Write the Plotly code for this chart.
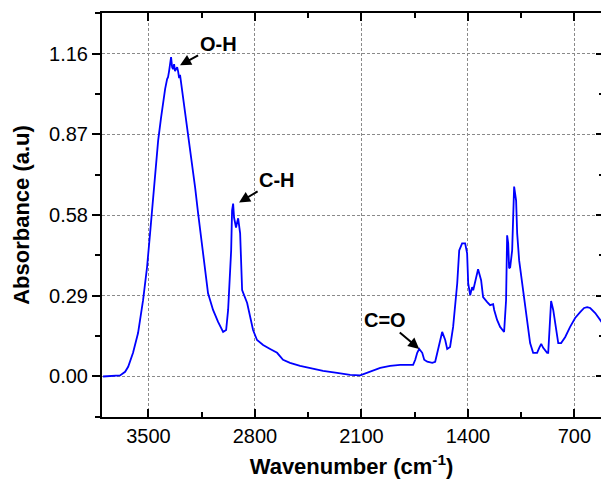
import plotly.graph_objects as go

# Spectrum values (wavenumber, absorbance)
wavenumber = [3798, 3752, 3686, 3653, 3633, 3601, 3568, 3535, 3509, 3489, 3469, 3456, 3436, 3417,
              3403, 3390, 3377, 3371, 3364, 3357, 3351, 3344, 3338, 3331, 3325, 3318, 3311, 3305,
              3298, 3292, 3278, 3259, 3239, 3213, 3193, 3173, 3160, 3140, 3108, 3075, 3042, 3009,
              2989, 2976, 2956, 2950, 2943, 2937, 2924, 2917, 2910, 2897, 2891, 2884, 2851, 2832,
              2812, 2786, 2746, 2700, 2654, 2615, 2569, 2503, 2437, 2352, 2260, 2174, 2108, 2042,
              1976, 1911, 1845, 1760, 1746, 1733, 1720, 1700, 1687, 1667, 1634, 1615, 1602, 1582,
              1569, 1549, 1536, 1517, 1497, 1470, 1457, 1438, 1418, 1405, 1398, 1385, 1372, 1365,
              1346, 1333, 1313, 1300, 1273, 1254, 1234, 1227, 1208, 1188, 1162, 1149, 1142, 1135,
              1129, 1122, 1109, 1102, 1096, 1083, 1076, 1063, 1043, 1030, 1010, 991, 971, 945,
              931, 918, 905, 879, 872, 859, 853, 839, 820, 806, 787, 760, 728, 695, 662, 636, 616,
              596, 563, 530, 520]
absorbance = [0.000, 0.001, 0.004, 0.017, 0.035, 0.085, 0.156, 0.274, 0.392, 0.514, 0.632, 0.729,
              0.847, 0.929, 0.990, 1.033, 1.068, 1.075, 1.097, 1.133, 1.147, 1.111, 1.104, 1.122,
              1.097, 1.104, 1.111, 1.097, 1.072, 1.083, 1.025, 0.954, 0.872, 0.775, 0.679, 0.585,
              0.525, 0.428, 0.299, 0.239, 0.196, 0.160, 0.167, 0.239, 0.453, 0.596, 0.621, 0.571,
              0.535, 0.553, 0.568, 0.514, 0.392, 0.310, 0.264, 0.214, 0.167, 0.131, 0.113, 0.099,
              0.085, 0.060, 0.049, 0.038, 0.031, 0.020, 0.013, 0.006, 0.004, 0.017, 0.031, 0.038,
              0.042, 0.042, 0.060, 0.085, 0.099, 0.085, 0.060, 0.053, 0.049, 0.053, 0.085, 0.131,
              0.160, 0.131, 0.099, 0.106, 0.178, 0.335, 0.453, 0.478, 0.478, 0.442, 0.335, 0.292,
              0.321, 0.310, 0.357, 0.385, 0.346, 0.285, 0.267, 0.256, 0.260, 0.239, 0.203, 0.178,
              0.160, 0.274, 0.507, 0.478, 0.389, 0.392, 0.453, 0.650, 0.682, 0.632, 0.514, 0.417,
              0.335, 0.264, 0.192, 0.120, 0.085, 0.085, 0.103, 0.117, 0.103, 0.085, 0.085, 0.239,
              0.271, 0.239, 0.178, 0.120, 0.120, 0.142, 0.178, 0.210, 0.231, 0.246, 0.249, 0.246,
              0.228, 0.203, 0.195]

x_ticks = [3500, 2800, 2100, 1400, 700]
x_tick_labels = ["3500", "2800", "2100", "1400", "700"]
x_minor = [3150, 2450, 1750, 1050]
y_ticks = [0.0, 0.29, 0.58, 0.87, 1.16]
y_tick_labels = ["0.00", "0.29", "0.58", "0.87", "1.16"]
y_minor = [-0.145, 0.145, 0.435, 0.725, 1.015, 1.305]

# labels: (text, text position, arrow head on the peak)
labels = [
    ("O-H", (3042, 1.193), (3292, 1.118)),
    ("C-H", (2654, 0.707), (2904, 0.625)),
    ("C=O", (1945, 0.203), (1720, 0.099)),
]

x_range = [3805, 525]
y_range = [-0.1455, 1.3055]
FONT = "Arial, 'Liberation Sans', sans-serif"

fig = go.Figure()
fig.add_trace(go.Scatter(x=wavenumber, y=absorbance, mode="lines",
                         line=dict(color="#0000FF", width=1.8), showlegend=False))

grid = dict(showgrid=True, gridcolor="#8a8a8a", gridwidth=1, griddash="3px,2px")

fig.update_layout(
    width=601, height=481,
    margin=dict(l=102, r=0, t=13, b=64),
    paper_bgcolor="white", plot_bgcolor="white",
    font=dict(family=FONT, size=20, color="black"),
    xaxis=dict(range=x_range, tickvals=x_ticks, ticktext=x_tick_labels,
               ticks="inside", ticklen=8, tickwidth=2, tickcolor="black",
               minor=dict(tickvals=x_minor, ticks="inside", ticklen=5, tickwidth=2,
                          tickcolor="black", showgrid=False),
               showline=True, linewidth=2, linecolor="black", mirror=True,
               zeroline=False, tickfont=dict(size=20, family=FONT),
               title=dict(text="<b>Wavenumber (cm<sup>-1</sup>)</b>",
                          font=dict(size=22, family=FONT), standoff=13),
               **grid),
    yaxis=dict(range=y_range, tickvals=y_ticks, ticktext=y_tick_labels,
               ticks="outside", ticklen=8, tickwidth=2, tickcolor="black",
               minor=dict(tickvals=y_minor, ticks="outside", ticklen=5, tickwidth=2,
                          tickcolor="black", showgrid=False),
               showline=True, linewidth=2, linecolor="black", mirror=False,
               zeroline=False, tickfont=dict(size=20, family=FONT),
               title=dict(text="<b>Absorbance (a.u)</b>",
                          font=dict(size=22, family=FONT), standoff=13),
               **grid),
    xaxis2=dict(range=x_range, overlaying="x", side="top", anchor="y",
                tickvals=x_ticks, showticklabels=False,
                ticks="inside", ticklen=8, tickwidth=2, tickcolor="black",
                minor=dict(tickvals=x_minor, ticks="inside", ticklen=5, tickwidth=2,
                           tickcolor="black"),
                showgrid=False, showline=False, zeroline=False),
    yaxis2=dict(range=y_range, overlaying="y", side="right", anchor="x",
                tickvals=y_ticks, showticklabels=False,
                ticks="inside", ticklen=5, tickwidth=2, tickcolor="black",
                minor=dict(tickvals=y_minor, ticks="inside", ticklen=2, tickwidth=2,
                           tickcolor="black"),
                showgrid=False, showline=False, zeroline=False),
)

# invisible trace so the mirrored tick axes render
fig.add_trace(go.Scatter(x=[wavenumber[0]], y=[absorbance[0]], xaxis="x2", yaxis="y2",
                         mode="markers", marker=dict(opacity=0), showlegend=False,
                         hoverinfo="skip"))

for text, (tx, ty), (hx, hy) in labels:
    fig.add_annotation(x=hx, y=hy, xref="x", yref="y", ax=tx, ay=ty, axref="x", ayref="y",
                       text=f"<b>{text}</b>", showarrow=True, arrowhead=2, arrowsize=1.1,
                       arrowwidth=2, arrowcolor="black", standoff=0,
                       font=dict(size=20, family=FONT, color="black"))

fig.write_html("out.html")
